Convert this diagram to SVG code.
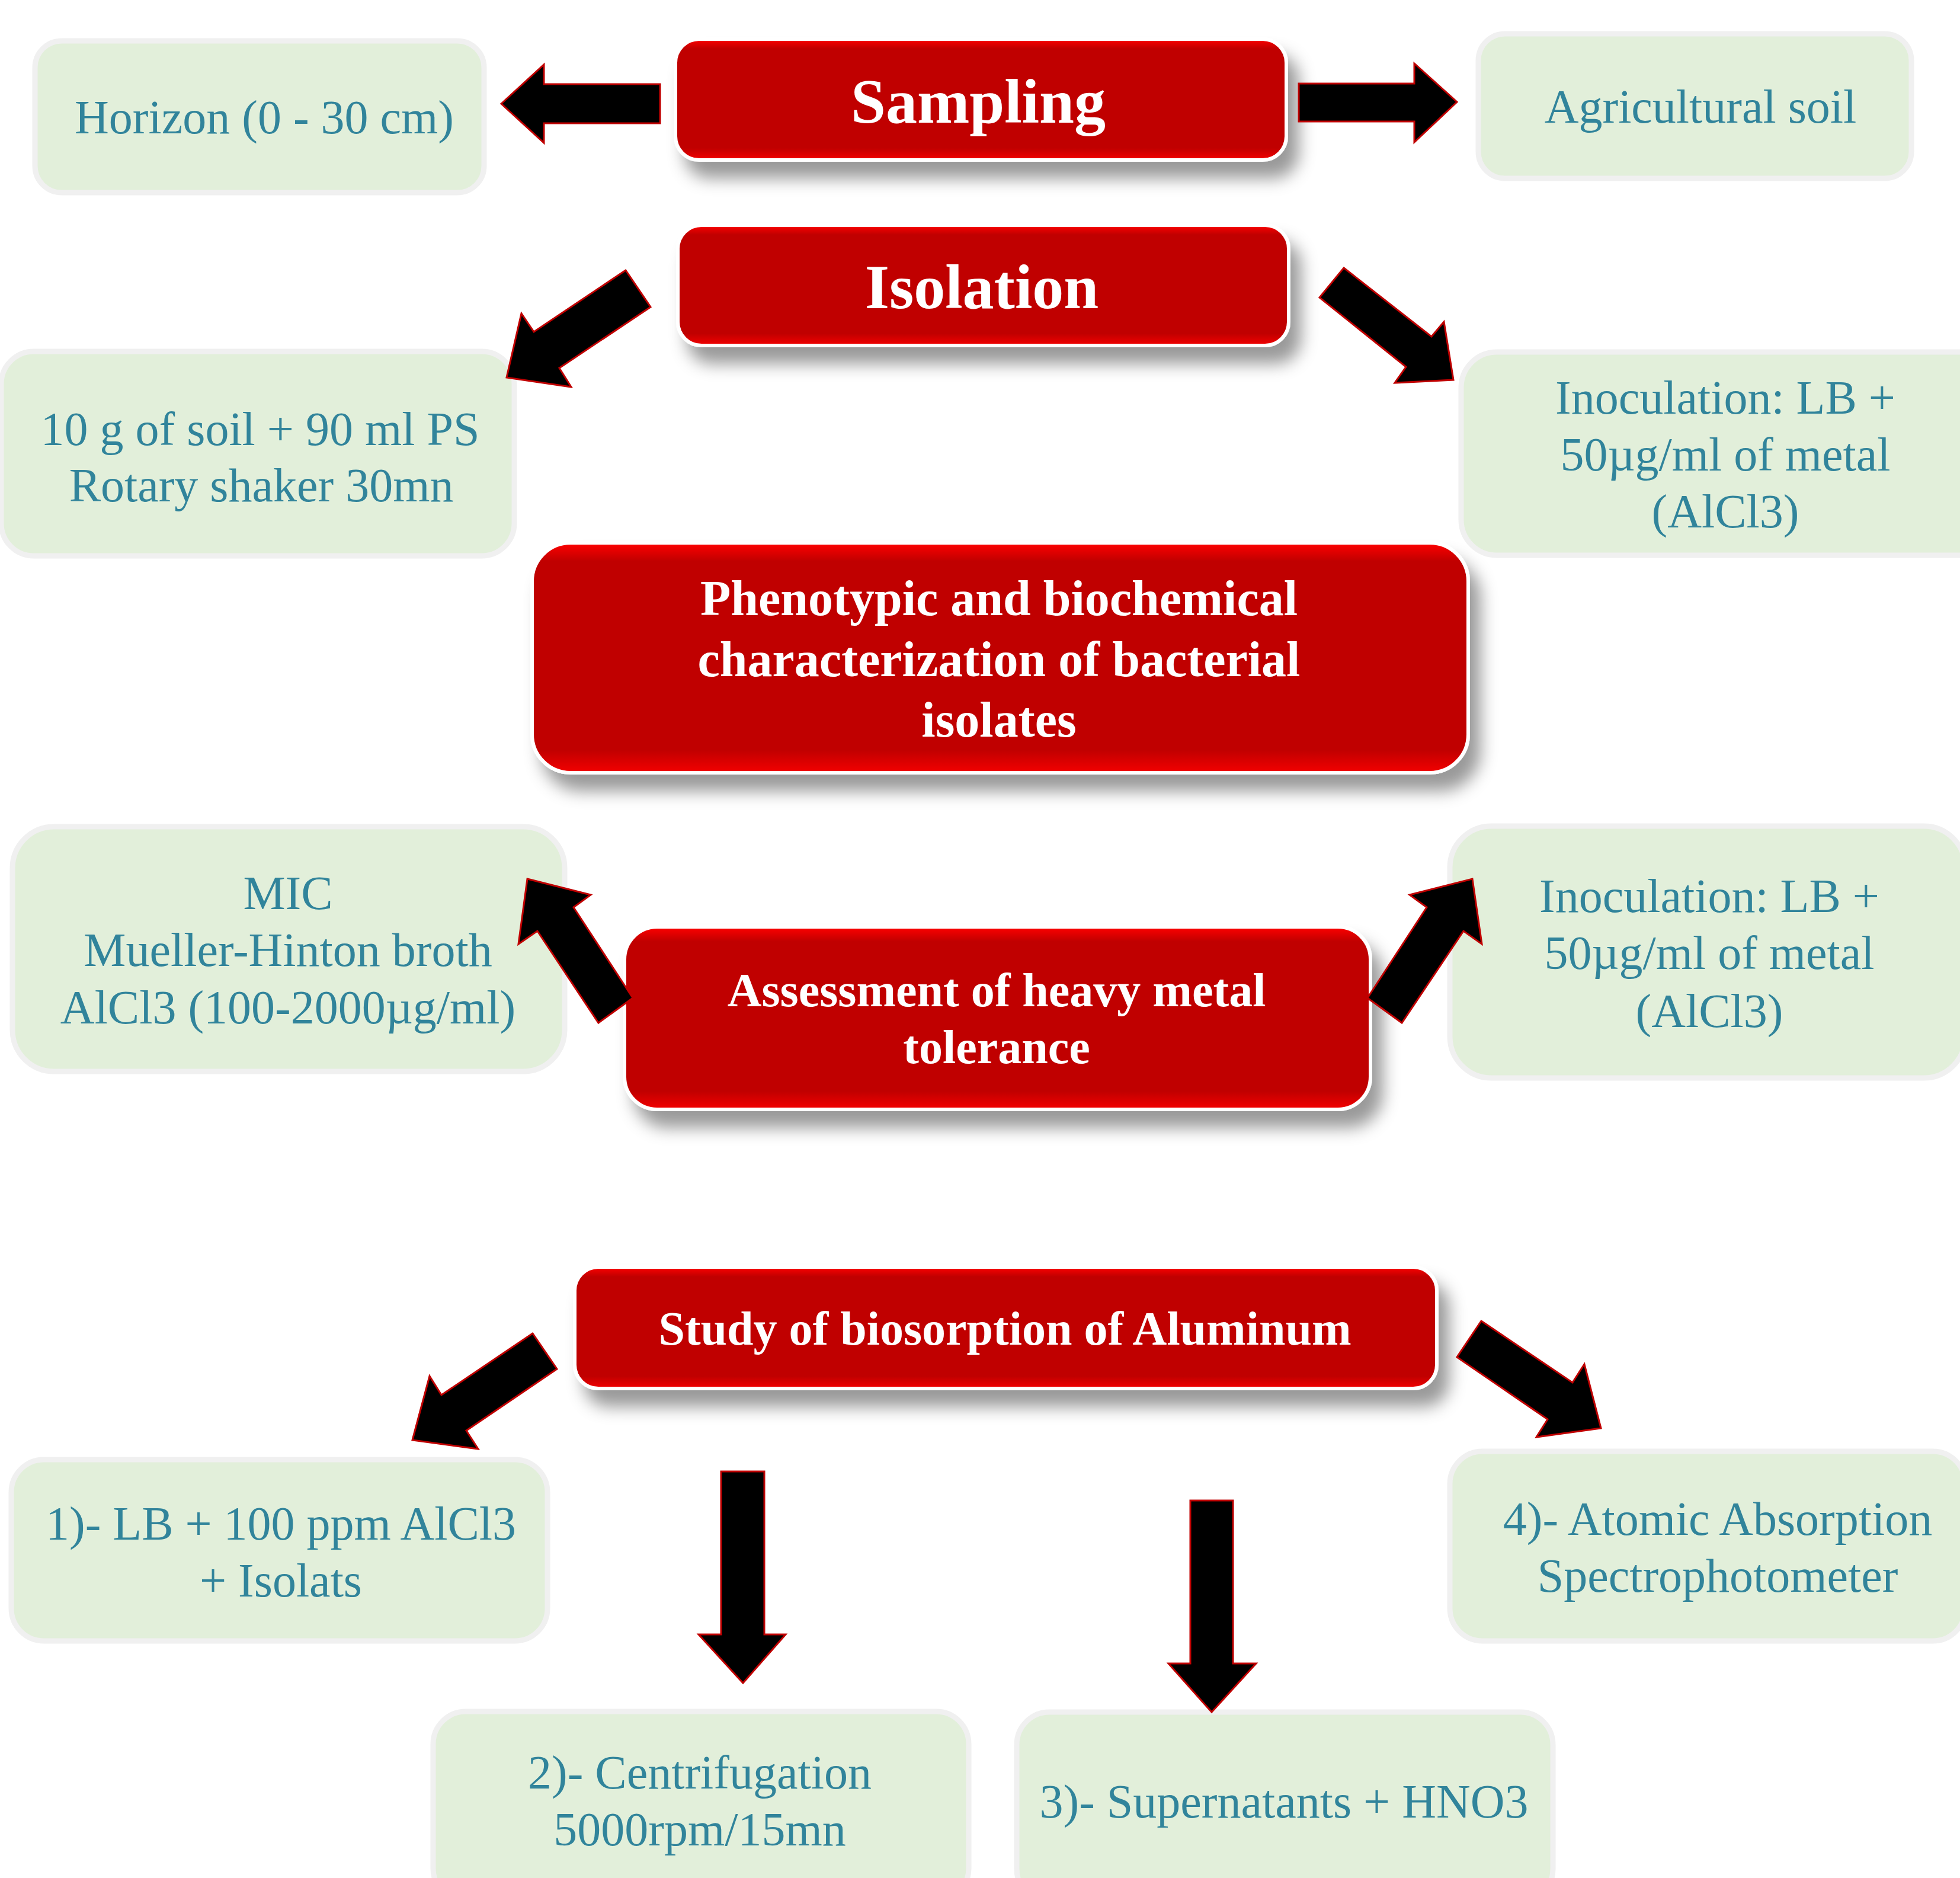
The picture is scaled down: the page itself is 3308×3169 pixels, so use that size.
<svg xmlns="http://www.w3.org/2000/svg" width="3308" height="3169" viewBox="0 0 3308 3169">
<defs>
<linearGradient id="redg" x1="0" y1="0" x2="0" y2="1">
<stop offset="0" stop-color="#FF0000"/>
<stop offset="0.08" stop-color="#C00000"/>
<stop offset="0.9" stop-color="#C00000"/>
<stop offset="1" stop-color="#F40000"/>
</linearGradient>
<filter id="sh" x="-10%" y="-20%" width="130%" height="160%">
<feDropShadow dx="18" dy="28" stdDeviation="14" flood-color="#000" flood-opacity="0.4"/>
</filter>
<style>
.red{fill:url(#redg);stroke:#FFFFFF;stroke-width:6}
.grn{fill:#E2EFDA;stroke:#F0F0F0;stroke-width:9}
.t{font-family:"Liberation Serif","Times New Roman",serif;font-size:80px;fill:#31849B;text-anchor:middle}
.w{font-family:"Liberation Serif","Times New Roman",serif;font-weight:bold;fill:#FFFFFF;text-anchor:middle}
.arr{fill:#000000;stroke:#C00000;stroke-width:3;stroke-linejoin:miter}
</style>
</defs>
<rect width="3308" height="3169" fill="#FFFFFF"/>

<g id="sampling" filter="url(#sh)">
<rect class="red" x="1140" y="66" width="1031" height="204" rx="40"/>
<text class="w" x="1651" y="207" font-size="106">Sampling</text>
</g>
<g id="isolation" filter="url(#sh)">
<rect class="red" x="1144" y="380" width="1031" height="203" rx="40"/>
<text class="w" x="1657" y="520" font-size="106">Isolation</text>
</g>
<g id="phenotypic" filter="url(#sh)">
<rect class="red" x="898" y="916" width="1580" height="388" rx="65"/>
<text class="w" x="1686" y="1038" font-size="84">Phenotypic and biochemical</text>
<text class="w" x="1686" y="1141" font-size="84">characterization of bacterial</text>
<text class="w" x="1686" y="1243" font-size="84">isolates</text>
</g>
<g id="assessment" filter="url(#sh)">
<rect class="red" x="1054" y="1564" width="1259" height="308" rx="55"/>
<text class="w" x="1682" y="1698" font-size="80">Assessment of heavy metal</text>
<text class="w" x="1682" y="1794" font-size="80">tolerance</text>
</g>
<g id="study" filter="url(#sh)">
<rect class="red" x="970" y="2138" width="1455" height="205" rx="40"/>
<text class="w" x="1696" y="2269" font-size="80">Study of biosorption of Aluminum</text>
</g>

<g id="horizon">
<rect class="grn" x="59" y="69" width="758" height="256" rx="45"/>
<text class="t" x="446" y="225">Horizon (0 - 30 cm)</text>
</g>
<g id="agricultural">
<rect class="grn" x="2495" y="57" width="731" height="244" rx="45"/>
<text class="t" x="2870" y="207">Agricultural soil</text>
</g>
<g id="soil">
<rect class="grn" x="2" y="593" width="866" height="345" rx="55"/>
<text class="t" x="439" y="751">10 g of soil + 90 ml PS</text>
<text class="t" x="441" y="846">Rotary shaker 30mn</text>
</g>
<g id="inoculation1">
<rect class="grn" x="2466" y="594" width="900" height="343" rx="60"/>
<text class="t" x="2912" y="698">Inoculation: LB +</text>
<text class="t" x="2912" y="794">50µg/ml of metal</text>
<text class="t" x="2912" y="890">(AlCl3)</text>
</g>
<g id="mic">
<rect class="grn" x="21" y="1395" width="932" height="413" rx="70"/>
<text class="t" x="486" y="1534">MIC</text>
<text class="t" x="486" y="1630">Mueller-Hinton broth</text>
<text class="t" x="486" y="1727">AlCl3 (100-2000µg/ml)</text>
</g>
<g id="inoculation2">
<rect class="grn" x="2447" y="1394" width="870" height="425" rx="70"/>
<text class="t" x="2885" y="1539">Inoculation: LB +</text>
<text class="t" x="2885" y="1635">50µg/ml of metal</text>
<text class="t" x="2885" y="1733">(AlCl3)</text>
</g>
<g id="step1">
<rect class="grn" x="19" y="2463" width="905" height="306" rx="55"/>
<text class="t" x="474" y="2598">1)- LB + 100 ppm AlCl3</text>
<text class="t" x="474" y="2694">+ Isolats</text>
</g>
<g id="step4">
<rect class="grn" x="2447" y="2449" width="870" height="320" rx="55"/>
<text class="t" x="2899" y="2590">4)- Atomic Absorption</text>
<text class="t" x="2899" y="2686">Spectrophotometer</text>
</g>
<g id="step2">
<rect class="grn" x="731" y="2888" width="904" height="320" rx="55"/>
<text class="t" x="1181" y="3018">2)- Centrifugation</text>
<text class="t" x="1181" y="3114">5000rpm/15mn</text>
</g>
<g id="step3">
<rect class="grn" x="1716" y="2889" width="905" height="320" rx="55"/>
<text class="t" x="2167" y="3067">3)- Supernatants + HNO3</text>
</g>

<g id="connectors">
<polygon class="arr" points="846,175 918,109 918,142 1114,142 1114,208 918,208 918,241"/>
<polygon class="arr" points="2192,141 2387,141 2387,107 2459,172 2387,240 2387,205 2192,205"/>
<polygon class="arr" points="1056,456 901,560 880,529 855,637 964,653 944,621 1098,518"/>
<polygon class="arr" points="2268,452 2416,568 2437,543 2453,641 2354,646 2373,619 2227,502"/>
<polygon class="arr" points="890,1483 997,1510 968,1531 1068,1684 1010,1726 907,1571 875,1593"/>
<polygon class="arr" points="2485,1483 2501,1593 2470,1571 2366,1726 2308,1684 2408,1531 2379,1510"/>
<polygon class="arr" points="899,2250 745,2354 725,2322 696,2430 807,2445 787,2414 940,2310"/>
<polygon class="arr" points="2500,2229 2654,2333 2674,2302 2702,2410 2593,2425 2612,2395 2459,2290"/>
<polygon class="arr" points="1217,2483 1290,2483 1290,2758 1326,2758 1254,2840 1179,2758 1217,2758"/>
<polygon class="arr" points="2009,2532 2081,2532 2081,2807 2120,2807 2045,2889 1972,2807 2009,2807"/>
</g>
</svg>
